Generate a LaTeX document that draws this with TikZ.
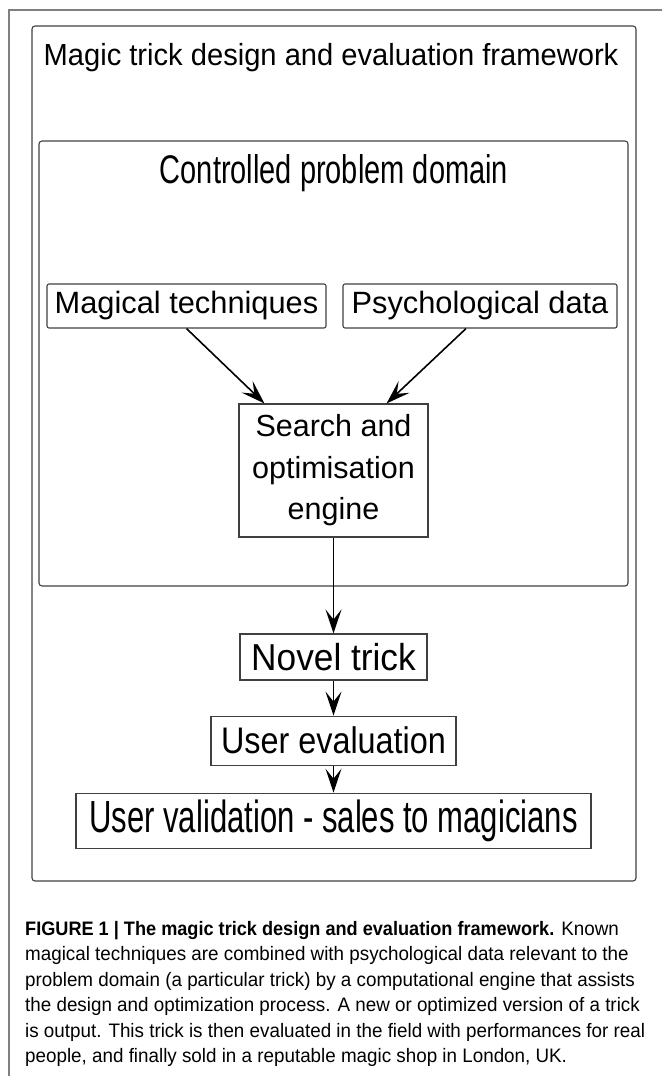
\documentclass[tikz,border=0pt]{standalone}
\usepackage{fontspec}
\setmainfont{Liberation Sans}
\newfontfamily\capfont[FakeStretch=0.965, BoldFeatures={FakeStretch=0.93}]{Liberation Sans}
\usepackage{graphicx}
\usetikzlibrary{arrows.meta, positioning}

\newcommand{\narrow}[2]{\scalebox{#1}[1]{#2}}

\begin{document}
\begin{tikzpicture}[x=1pt, y=-1pt, >={Stealth[length=24pt, width=16pt, inset=10pt]},
  frame/.style={draw=black!75, line width=1.1pt, rounded corners=3pt, inner sep=0pt},
  bx/.style={draw=black!75, line width=1.1pt, inner sep=0pt},
  arr/.style={->, line width=1.6pt}]
  \useasboundingbox (0,0) rectangle (662,1076);
  % page rule
  \draw[black!50, line width=1.6pt] (662,10) -- (9,10) -- (9,1076);
  % containers
  \node[frame, minimum width=604pt, minimum height=855pt] (outer) at (334,453.5) {};
  \node[frame, minimum width=589pt, minimum height=445pt] (domain) at (333.5,363.5) {};
  \node[anchor=base, font=\fontsize{30.5}{36}\selectfont] (ttl) at (331,65)
    {\narrow{0.955}{Magic trick design and evaluation framework}};
  \node[anchor=base, font=\fontsize{40}{48}\selectfont] (dtl) at (334,183)
    {\narrow{0.725}{Controlled problem domain}};
  % inputs and engine
  \node[bx, rounded corners=2pt, minimum width=279pt, minimum height=44pt,
    font=\fontsize{30.8}{37}\selectfont] (mag) at (186.5,306) {Magical techniques};
  \node[bx, rounded corners=2pt, minimum width=274pt, minimum height=44pt,
    font=\fontsize{30.8}{37}\selectfont] (psy) at (480,306) {Psychological data};
  \node[bx, minimum width=189pt, minimum height=133pt, align=center,
    font=\fontsize{30.5}{41.5}\selectfont] (srch) at (333.5,470.5)
    {Search and\\optimisation\\engine};
  % outputs
  \node[bx, minimum width=187pt, minimum height=46pt,
    font=\fontsize{37.5}{45}\selectfont] (nov) at (333.5,657) {\narrow{0.94}{Novel trick}};
  \node[bx, minimum width=245pt, minimum height=49pt, below=35pt of nov,
    font=\fontsize{37}{44}\selectfont] (ev) {\narrow{0.875}{User evaluation}};
  \node[bx, minimum width=515pt, minimum height=55pt, below=27pt of ev,
    font=\fontsize{45}{54}\selectfont] (val) {\narrow{0.69}{User validation - sales to magicians}};
  \draw[arr] (mag.south) -- ([xshift=26pt]srch.north west);
  \draw[arr] ([xshift=-14pt]psy.south) -- ([xshift=-42pt]srch.north east);
  \draw[arr] (srch) -- (nov);
  \draw[arr] (nov) -- (ev);
  \draw[arr] (ev) -- (val);
  % caption
  \node[anchor=north west, inner sep=0pt, align=left,
    font=\capfont\fontsize{19.5}{25.5}\selectfont] (cap) at (25,921)
    {\textbf{FIGURE 1 | The magic trick design and evaluation framework.} Known\\
     magical techniques are combined with psychological data relevant to the\\
     problem domain (a particular trick) by a computational engine that assists\\
     the design and optimization process. A new or optimized version of a trick\\
     is output. This trick is then evaluated in the field with performances for real\\
     people, and finally sold in a reputable magic shop in London, UK.};
\end{tikzpicture}
\end{document}
